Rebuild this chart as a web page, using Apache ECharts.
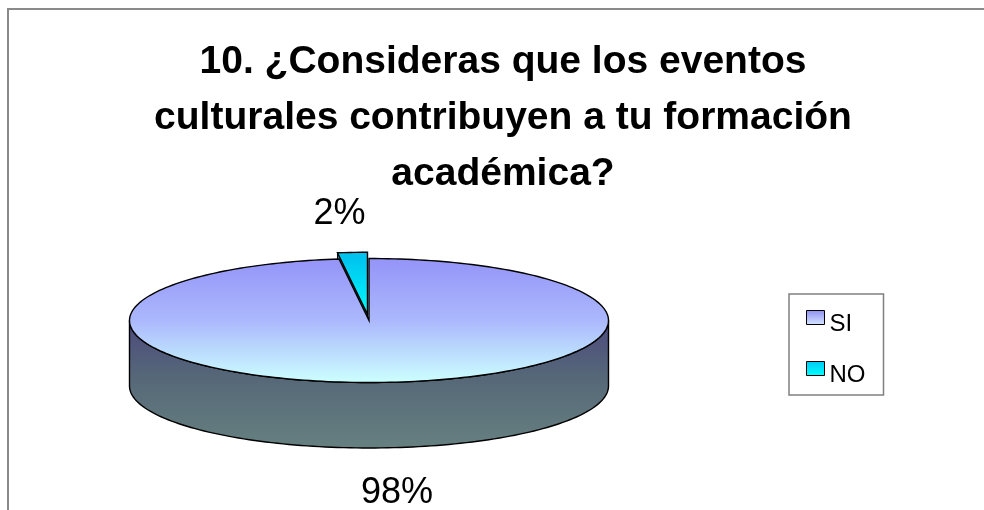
<!DOCTYPE html>
<html>
<head>
<meta charset="utf-8">
<script src="https://cdn.jsdelivr.net/npm/echarts@6/dist/echarts.min.js"></script>
<style>
  html, body { margin: 0; padding: 0; background: #fff; overflow: hidden; width: 984px; height: 510px; }
  #frame { position: absolute; left: 7px; top: 8px; width: 1100px; height: 600px;
           border-left: 2px solid #8a8a8a; border-top: 2px solid #8a8a8a; }
  #chart { position: absolute; left: 0; top: 0; width: 1006px; height: 510px; }
</style>
</head>
<body>
<div id="frame"></div>
<div id="chart"></div>
<script>
// Survey question and answers
const titleLines = [
  '10. ¿Consideras que los eventos',
  'culturales contribuyen a tu formación',
  'académica?'
];
const categories = ['SI', 'NO'];
const values = [98, 2];

// Ellipse geometry of the tilted pie (screen pixels)
const cx = 369, cy = 320.5, rx = 239.5, ry = 62, depth = 65.5;
// Outward pull of a slice, in un-tilted radius units
const explode = { NO: 24 };
// Label nudges from the slice's outer edge
const labelOffset = { SI: [13, 45], NO: [-13, -38] };

const G = echarts.graphic.LinearGradient;
const topFill = {
  SI: new G(0, cy - ry, 0, cy + ry, [
    { offset: 0, color: '#9494f8' },
    { offset: 0.5, color: '#abb8fc' },
    { offset: 1, color: '#ccffff' }
  ], true),
  NO: new G(0, cy - ry, 0, cy, [
    { offset: 0, color: '#00c4ee' },
    { offset: 1, color: '#00ffff' }
  ], true)
};
const sideFill = new G(0, cy, 0, cy + ry + depth, [
  { offset: 0, color: '#4c4a7e' },
  { offset: 0.45, color: '#566878' },
  { offset: 1, color: '#668080' }
], true);
const cutFill = { SI: '#4c4a7e', NO: '#0099aa' };

// Legend swatch: a square in the upper half of a taller icon box,
// so each name sits slightly below its swatch
const legendIcon = 'path://M0,0L18,0L18,14L0,14Z M0,28';
const legendFill = {
  SI: new G(0, 0, 0, 1, [{ offset: 0, color: '#8e8ef0' }, { offset: 0.5, color: '#d4e4ff' }, { offset: 1, color: '#d4e4ff' }]),
  NO: new G(0, 0, 0, 1, [{ offset: 0, color: '#00c8f4' }, { offset: 0.5, color: '#00ffff' }, { offset: 1, color: '#00ffff' }])
};

function pt(deg, dx, dy, down) {
  const r = deg * Math.PI / 180;
  return [cx + rx * Math.sin(r) + dx, cy - ry * Math.cos(r) + dy + (down || 0)];
}
function arc(a0, a1, dx, dy, down) {
  const n = Math.max(2, Math.ceil(Math.abs(a1 - a0) / 1.5));
  const pts = [];
  for (let i = 0; i <= n; i++) pts.push(pt(a0 + (a1 - a0) * i / n, dx, dy, down));
  return pts;
}

const total = values.reduce((s, v) => s + v, 0);

function renderSlice(params, api) {
  const i = params.dataIndex;
  const name = categories[i];
  let cum = 0;
  for (let k = 0; k < i; k++) cum += values[k];
  const a0 = 360 * cum / total;
  const a1 = 360 * (cum + values[i]) / total;
  const mid = (a0 + a1) / 2;
  const ex = explode[name] || 0;
  const m = mid * Math.PI / 180;
  const dx = ex * Math.sin(m);
  const dy = -ex * Math.cos(m) * ry / rx;
  const children = [];

  // outer wall, only the part facing the viewer
  const s = Math.max(a0, 90), e = Math.min(a1, 270);
  if (e > s) {
    const top = arc(s, e, dx, dy, 0);
    const bot = arc(e, s, dx, dy, depth);
    children.push({
      type: 'polygon', z2: 2,
      shape: { points: top.concat(bot) },
      style: { fill: sideFill, stroke: '#000', lineWidth: 1.4 }
    });
  }
  // radial walls of a pulled-out slice
  if (ex) {
    const c = [cx + dx, cy + dy];
    [a0, a1].forEach(a => {
      const p = pt(a, dx, dy, 0);
      children.push({
        type: 'polygon', z2: 4,
        shape: { points: [c, p, [p[0], p[1] + depth], [c[0], c[1] + depth]] },
        style: { fill: cutFill[name], stroke: '#000', lineWidth: 1 }
      });
    });
  }
  // top face
  children.push({
    type: 'polygon', z2: 10,
    shape: { points: [[cx + dx, cy + dy]].concat(arc(a0, a1, dx, dy, 0)) },
    style: { fill: topFill[name], stroke: '#000', lineWidth: 1.4 }
  });
  // percentage label
  const front = Math.cos(m) < 0;
  const anchor = pt(mid, dx, dy, front ? depth : 0);
  const off = labelOffset[name] || [0, 0];
  children.push({
    type: 'text', z2: 20,
    style: {
      text: Math.round(values[i] / total * 100) + '%',
      x: anchor[0] + off[0], y: anchor[1] + off[1],
      fill: '#000', font: '36px "Liberation Sans", Arial, sans-serif',
      align: 'center', verticalAlign: 'middle'
    }
  });
  return { type: 'group', children };
}

const chart = echarts.init(document.getElementById('chart'), null, { renderer: 'canvas' });
chart.setOption({
  animation: false,
  title: {
    text: titleLines.join('\n'),
    left: 'center', top: 34, padding: 0,
    textStyle: {
      fontFamily: '"Liberation Sans", Arial, sans-serif',
      fontSize: 39, fontWeight: 'bold', lineHeight: 56, color: '#000'
    }
  },
  legend: {
    orient: 'vertical', left: 789, top: 294,
    padding: [16, 18, 5, 17], itemGap: 22,
    itemWidth: 18, itemHeight: 28,
    borderColor: '#808080', borderWidth: 1.5,
    selectedMode: false,
    textStyle: {
      fontFamily: '"Liberation Sans", Arial, sans-serif',
      fontSize: 24, lineHeight: 24, color: '#000'
    },
    data: categories.map(n => ({
      name: n, icon: legendIcon,
      itemStyle: { color: legendFill[n], borderColor: '#000', borderWidth: 1 }
    }))
  },
  series: [
    {
      // carries the answer names for the legend
      type: 'pie', radius: 0, silent: true,
      label: { show: false }, labelLine: { show: false },
      itemStyle: { borderWidth: 0 },
      data: categories.map((n, i) => ({ name: n, value: values[i], itemStyle: { color: legendFill[n] } }))
    },
    {
      type: 'custom', name: 'Respuestas', coordinateSystem: 'none', silent: true,
      renderItem: renderSlice,
      data: categories.map((n, i) => ({ name: n, value: values[i] }))
    }
  ]
});
</script>
</body>
</html>
